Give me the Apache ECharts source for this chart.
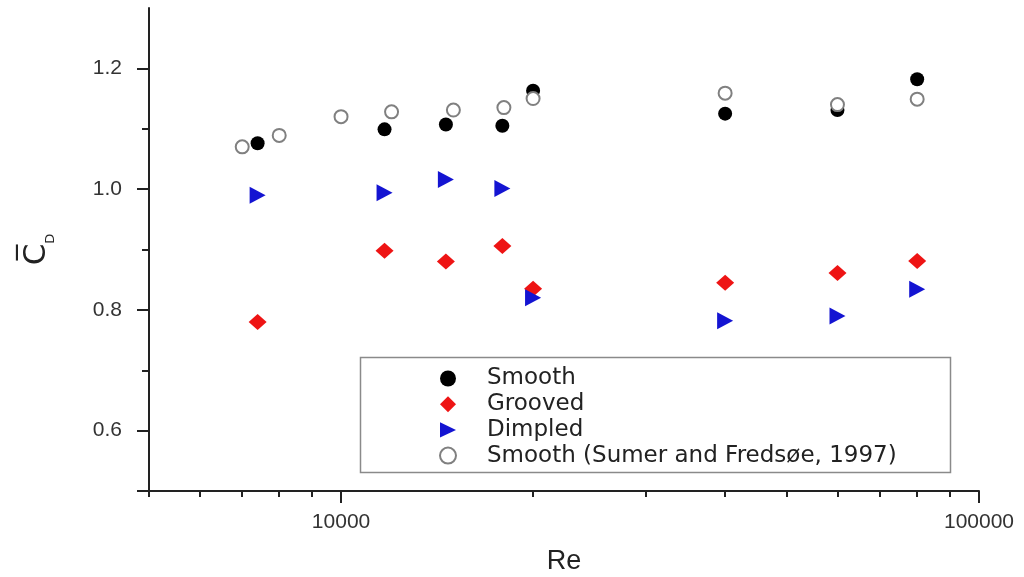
<!DOCTYPE html>
<html>
<head>
<meta charset="utf-8">
<script src="https://cdn.jsdelivr.net/npm/echarts@6/dist/echarts.min.js"></script>
<style>
html,body{margin:0;padding:0;background:#fff;}
#c{width:1024px;height:577px;}
</style>
</head>
<body>
<div id="c"></div>
<script>
// ---- data ----
const reSmooth = [7400, 11700, 14600, 17900, 20000, 40000, 60000, 80000];
const cdSmooth = [1.076, 1.099, 1.107, 1.105, 1.163, 1.125, 1.131, 1.182];

const reGrooved = [7400, 11700, 14600, 17900, 20000, 40000, 60000, 80000];
const cdGrooved = [0.780, 0.898, 0.880, 0.906, 0.835, 0.845, 0.861, 0.881];

const reDimpled = [7400, 11700, 14600, 17900, 20000, 40000, 60000, 80000];
const cdDimpled = [0.990, 0.994, 1.016, 1.001, 0.820, 0.782, 0.790, 0.834];

const reSumer = [7000, 8000, 10000, 12000, 15000, 18000, 20000, 40000, 60000, 80000];
const cdSumer = [1.070, 1.089, 1.120, 1.128, 1.131, 1.135, 1.150, 1.159, 1.140, 1.149];

const seriesNames = ['Smooth', 'Grooved', 'Dimpled', 'Smooth (Sumer and Fredsøe, 1997)'];

const xMajorTicks = [10000, 100000];
const xMinorTicks = [5000, 6000, 7000, 8000, 9000, 20000, 30000, 40000, 50000, 60000, 70000, 80000, 90000];
const yMajorTicks = [0.5, 0.6, 0.8, 1.0, 1.2];
const yLabels = [0.6, 0.8, 1.0, 1.2];
const yMinorTicks = [0.7, 0.9, 1.1];

function pairs(xs, ys) { return xs.map((x, i) => [x, ys[i]]); }

const FONT = 'Liberation Sans';
const LFONT = 'DejaVu Sans';
const gridRect = { left: 149, right: 45, top: 8, bottom: 86, containLabel: false, outerBoundsMode: 'none' };
const TRI_RIGHT = 'path://M0,0 L17,8 L0,16 Z';

const chart = echarts.init(document.getElementById('c'), null, { renderer: 'canvas' });
chart.setOption({
  backgroundColor: '#fff',
  animation: false,
  grid: [Object.assign({}, gridRect), Object.assign({}, gridRect)],
  xAxis: [
    {
      type: 'log', logBase: 10, min: 5000, max: 100000, gridIndex: 0,
      name: 'Re', nameLocation: 'middle', nameGap: 57,
      nameTextStyle: { fontFamily: FONT, fontSize: 27, color: '#222' },
      axisLine: { show: true, lineStyle: { color: '#222', width: 2 } },
      axisTick: { show: true, customValues: xMajorTicks, length: 12, lineStyle: { color: '#222', width: 2 } },
      axisLabel: { show: true, customValues: xMajorTicks, fontFamily: FONT, fontSize: 21, color: '#333', margin: 21,
        formatter: v => String(Math.round(v)) },
      splitLine: { show: false }, minorTick: { show: false }
    },
    {
      type: 'log', logBase: 10, min: 5000, max: 100000, gridIndex: 1,
      axisLine: { show: false },
      axisTick: { show: true, customValues: xMinorTicks, length: 6, lineStyle: { color: '#222', width: 2 } },
      axisLabel: { show: false },
      splitLine: { show: false }
    }
  ],
  yAxis: [
    {
      type: 'value', min: 0.5, max: 1.3, interval: 0.1, gridIndex: 0,
      name: '{c|C\u0305}{d|D}', nameLocation: 'middle', nameGap: 92, nameRotate: 90,
      nameTextStyle: {
        color: '#222',
        rich: {
          c: { fontFamily: LFONT, fontSize: 31, color: '#222', lineHeight: 40 },
          d: { fontFamily: LFONT, fontSize: 13, color: '#222', lineHeight: 13, verticalAlign: 'bottom' }
        }
      },
      axisLine: { show: true, lineStyle: { color: '#222', width: 2 } },
      axisTick: { show: true, customValues: yMajorTicks, length: 12, lineStyle: { color: '#222', width: 2 } },
      axisLabel: { show: true, customValues: yLabels, fontFamily: FONT, fontSize: 21, color: '#333', margin: 27,
        formatter: v => Number(v).toFixed(1) },
      splitLine: { show: false }
    },
    {
      type: 'value', min: 0.5, max: 1.3, interval: 0.1, gridIndex: 1,
      axisLine: { show: false },
      axisTick: { show: true, customValues: yMinorTicks, length: 7, lineStyle: { color: '#222', width: 2 } },
      axisLabel: { show: false },
      splitLine: { show: false }
    }
  ],
  legend: {
    orient: 'vertical', left: 439, top: 367, padding: 0,
    itemWidth: 16, itemHeight: 16, itemGap: 2.7,
    textStyle: { fontFamily: LFONT, fontSize: 23, color: '#222', padding: [0, 0, 0, 26] },
    data: [
      { name: seriesNames[0], icon: 'circle', itemStyle: { color: '#000', opacity: 1 } },
      { name: seriesNames[1], icon: 'diamond', itemStyle: { color: '#ee1414', opacity: 1 } },
      { name: seriesNames[2], icon: TRI_RIGHT, itemStyle: { color: '#1414d2', opacity: 1 } },
      { name: seriesNames[3], icon: 'circle', itemStyle: { color: '#fff', borderColor: '#808080', borderWidth: 2, opacity: 1 } }
    ]
  },
  graphic: [{
    type: 'rect', left: 358, top: 355, silent: true,
    shape: { width: 590, height: 115 },
    style: { fill: 'none', stroke: '#8a8a8a', lineWidth: 1.5 }
  }],
  series: [
    {
      name: seriesNames[0], type: 'scatter', xAxisIndex: 0, yAxisIndex: 0,
      symbol: 'circle', symbolSize: 14,
      itemStyle: { color: '#000', opacity: 1 },
      data: pairs(reSmooth, cdSmooth)
    },
    {
      name: seriesNames[1], type: 'scatter', xAxisIndex: 0, yAxisIndex: 0,
      symbol: 'diamond', symbolSize: [18, 16],
      itemStyle: { color: '#ee1414', opacity: 1 },
      data: pairs(reGrooved, cdGrooved)
    },
    {
      name: seriesNames[2], type: 'scatter', xAxisIndex: 0, yAxisIndex: 0,
      symbol: 'triangle', symbolSize: [17, 16], symbolRotate: -90,
      itemStyle: { color: '#1414d2', opacity: 1 },
      data: pairs(reDimpled, cdDimpled)
    },
    {
      name: seriesNames[3], type: 'scatter', xAxisIndex: 0, yAxisIndex: 0,
      symbol: 'circle', symbolSize: 13,
      itemStyle: { color: '#fff', borderColor: '#808080', borderWidth: 2, opacity: 1 },
      data: pairs(reSumer, cdSumer)
    }
  ]
});
</script>
</body>
</html>
